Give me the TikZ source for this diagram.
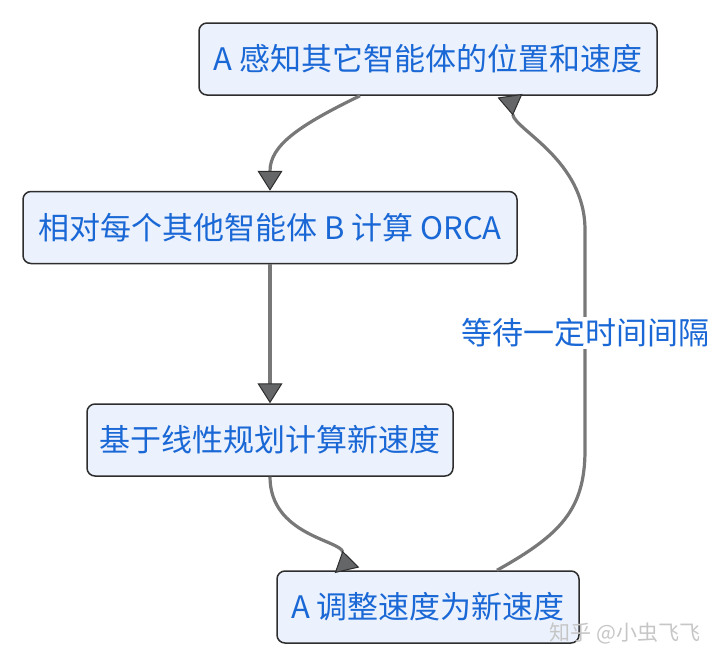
\documentclass[tikz,border=0pt]{standalone}
\usepackage{fontspec}
\setmainfont{Noto Sans CJK SC}
\usetikzlibrary{arrows.meta}
\definecolor{boxfill}{RGB}{236,242,253}
\definecolor{boxline}{RGB}{45,45,45}
\definecolor{labelblue}{RGB}{26,104,214}
\definecolor{edgegray}{RGB}{120,120,120}
\definecolor{tipgray}{RGB}{100,102,104}
\begin{document}
\begin{tikzpicture}[x=1pt, y=-1pt,
  stepbox/.style={draw=boxline, line width=1.5pt, fill=boxfill, rounded corners=8pt,
    minimum height=72pt, inner sep=0pt, text=labelblue, font=\fontsize{31}{36}\selectfont},
  flow/.style={draw=edgegray, line width=3.2pt,
    -{Triangle[width=25pt, length=20pt, line width=1pt, fill=tipgray, color=boxline]}},
  backflow/.style={draw=edgegray, line width=3.2pt,
    -{Triangle[reversed, width=25pt, length=20pt, line width=1pt, fill=tipgray, color=boxline]}}]
  \useasboundingbox (0,0) rectangle (720,664);
  % the four steps
  \node[stepbox, minimum width=458pt] (sense) at (428,59) {A 感知其它智能体的位置和速度};
  \node[stepbox, minimum width=494pt] (orca) at (270,227.5) {相对每个其他智能体 B 计算 ORCA};
  \node[stepbox, minimum width=366pt] (lp) at (270,440) {基于线性规划计算新速度};
  \node[stepbox, minimum width=302pt] (update) at (428,607) {A 调整速度为新速度};
  % forward edges
  \draw[flow] (sense.south west -| 360,0)
    .. controls (300,125) and (270,145) .. (orca.north);
  \draw[flow] (orca.south) -- (lp.north);
  \draw[backflow] (lp.south) .. controls (270,535) and (340,540) .. (update.north west -| 347,0);
  % loop back edge
  \draw[backflow] (update.north west -| 497,0)
    .. controls (560,535) and (585,510) .. (585,450) -- (585,230)
    .. controls (585,160) and (515,130) .. (sense.south west -| 510,0);
  \node[fill=white, inner sep=2pt, text=labelblue, font=\fontsize{31}{36}\selectfont] (wait) at (585,333) {等待一定时间间隔};
  % watermark
  \node[text=gray!45, font=\fontsize{21}{25}\selectfont, anchor=east] (mark) at (704,633) {知乎 @小虫飞飞};
\end{tikzpicture}
\end{document}
